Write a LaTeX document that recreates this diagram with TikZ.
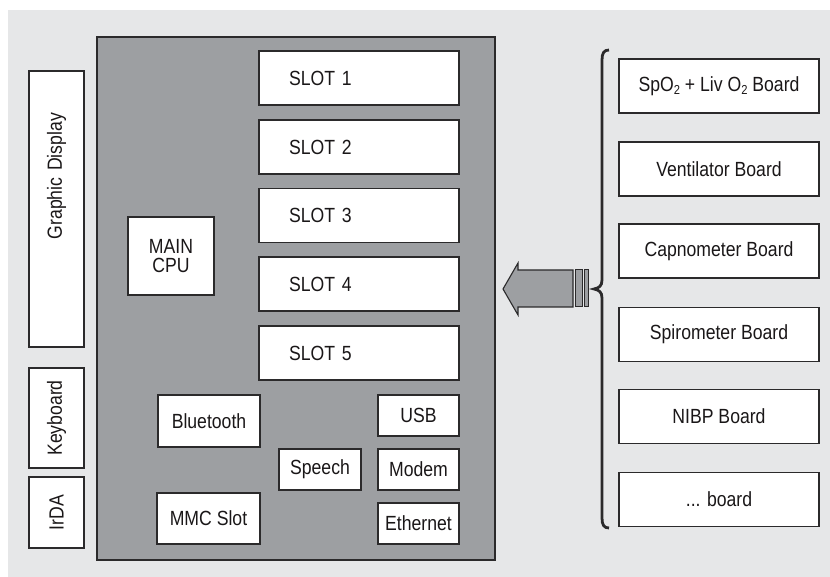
\documentclass[tikz,border=0pt]{standalone}
\usepackage{fontspec}
\setmainfont{Liberation Sans}[FakeStretch=0.86]
\definecolor{bgc}{HTML}{E6E7E8}
\definecolor{mainc}{HTML}{9D9FA2}
\definecolor{linec}{HTML}{2B2A2B}
\definecolor{txtc}{HTML}{1A1718}
\newcommand\lowtwo{\raisebox{-0.3ex}{\fontsize{13}{13}\selectfont 2}}
\begin{document}
\begin{tikzpicture}[x=1pt,y=-1pt,
  box/.style={draw=linec,fill=white,line width=1.3pt,inner sep=0pt,
    font=\fontsize{20.5}{23}\selectfont,text=txtc,align=center},
  slotbox/.style={box,minimum width=200,minimum height=54,text width=140,
    inner xsep=30,align=left},
  board/.style={box,minimum width=200,minimum height=54},
  small/.style={box,minimum height=41},
  side/.style={box,rotate=90,minimum height=55}]
\useasboundingbox (0,0) rectangle (830,577);
\fill[bgc] (8,10) rectangle (830,577);
% main board
\node[draw=linec,fill=mainc,line width=1.2pt,minimum width=398,minimum height=523,inner sep=0] (main) at (296,298.5) {};
% left side
\node[side,minimum width=276,text width=192,inner xsep=42,align=right] (gd) at (56.5,209) {Graphic Display};
\node[side,minimum width=100] (kb) at (56.5,418) {Keyboard};
\node[side,minimum width=71] (irda) at (56.5,512.5) {IrDA};
% slots
\node[slotbox] (s1) at (359,78) {SLOT 1};
\node[slotbox] (s2) at (359,147) {SLOT 2};
\node[slotbox] (s3) at (359,215.5) {SLOT 3};
\node[slotbox] (s4) at (359,284) {SLOT 4};
\node[slotbox] (s5) at (359,353) {SLOT 5};
% cpu etc
\node[box,minimum width=86,minimum height=78,font=\fontsize{20.5}{19}\selectfont] (cpu) at (171,256) {MAIN\\CPU};
\node[box,minimum width=102,minimum height=52] (bt) at (209,421) {Bluetooth};
\node[box,minimum width=103,minimum height=51] (mmc) at (208.5,518.5) {MMC Slot};
\node[small,minimum width=82] (speech) at (320,469.5) {Speech};
\node[small,minimum width=81] (usb) at (418.5,415.5) {USB};
\node[small,minimum width=81] (modem) at (418.5,469.5) {Modem};
\node[small,minimum width=81] (eth) at (418.5,523.5) {Ethernet};
% boards
\node[board] (b1) at (719,86) {SpO\lowtwo{} + Liv O\lowtwo{} Board};
\node[board] (b2) at (719,169) {Ventilator Board};
\node[board] (b3) at (719,251) {Capnometer Board};
\node[board] (b4) at (719,334.5) {Spirometer Board};
\node[board] (b5) at (719,416.5) {NIBP Board};
\node[board] (b6) at (719,499.5) {... board};
% brace
\draw[linec,line width=2.8pt] (609,50) .. controls (604,50) and (602,53) .. (602,60)
  -- (602,280) .. controls (602,286) and (599,288) .. (594,289)
  .. controls (599,290) and (602,292) .. (602,298)
  -- (602,518) .. controls (602,525) and (604,528) .. (609,528);
% arrow
\draw[fill=mainc,draw=linec,line width=1.1pt,line join=miter]
  (503,289) -- (518,263) -- (518,270) -- (573,270) -- (573,307) -- (518,307) -- (518,315) -- cycle;
\draw[fill=mainc,draw=linec,line width=1pt] (575.5,270) rectangle (582,307);
\draw[fill=mainc,draw=linec,line width=1pt] (584.5,270) rectangle (588,307);
\end{tikzpicture}
\end{document}
